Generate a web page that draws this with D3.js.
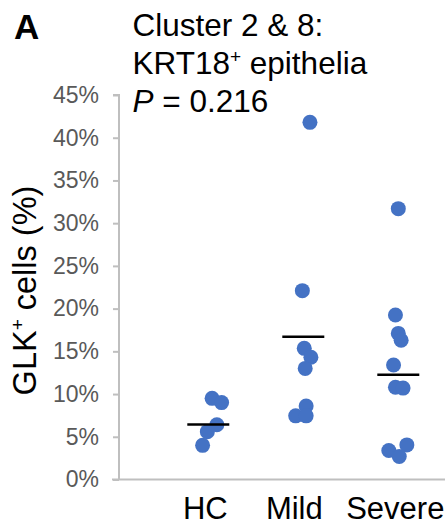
<!DOCTYPE html>
<html>
<head>
<meta charset="utf-8">
<script src="https://cdn.jsdelivr.net/npm/d3@7"></script>
<style>
  body { margin: 0; background: #fff; }
  svg { display: block; font-family: "Liberation Sans", Arial, sans-serif; }
</style>
</head>
<body>
<svg id="chart" width="448" height="529"></svg>
<script>
// groups shown on the x axis
const groups = ["HC", "Mild", "Severe"];

// GLK+ cells (%) per sample
const hcValues = [9.5, 9.0, 6.4, 5.6, 4.0];
const mildValues = [41.8, 22.1, 15.35, 14.3, 13.0, 8.6, 7.45, 7.45];
const severeValues = [31.7, 19.25, 17.1, 16.3, 13.4, 10.8, 10.7, 4.05, 3.4, 2.7];

// horizontal scatter of the dots, in group units
const hcJitter = [0.04, 0.14, 0.09, -0.01, -0.06];
const mildJitter = [0.07, -0.01, 0.01, 0.08, 0.02, 0.03, -0.08, 0.03];
const severeJitter = [0.0, -0.03, 0.0, 0.03, -0.05, -0.03, 0.05, 0.09, -0.1, 0.01];

// group means drawn as black bars
const groupMeans = [6.45, 16.7, 12.25];

// y tick values (%)
const yTicks = [0, 5, 10, 15, 20, 25, 30, 35, 40, 45];

const svg = d3.select("#chart");
const blue = "#4472C4";

const y = d3.scaleLinear().domain([0, 45]).range([479.5, 95]);
const x = d3.scaleLinear().domain([1, 3]).range([208.3, 398.3]);

// y axis
const yAxis = d3
  .axisLeft(y)
  .tickValues(yTicks)
  .tickSize(6)
  .tickPadding(14)
  .tickFormat((d) => d + "%");

const yg = svg.append("g").attr("transform", "translate(119,0)").call(yAxis);
yg.select(".domain").attr("stroke", "#bfbfbf").attr("stroke-width", 2).attr("d", "M-6,95H0V479.5");
yg.selectAll(".tick line").attr("stroke", "#bfbfbf").attr("stroke-width", 2);
yg.selectAll(".tick text")
  .attr("fill", "#595959")
  .attr("font-size", 23)
  .attr("font-family", "Liberation Sans, Arial, sans-serif");

// x axis line
svg
  .append("line")
  .attr("x1", 112)
  .attr("x2", 445)
  .attr("y1", y(0))
  .attr("y2", y(0))
  .attr("stroke", "#bfbfbf")
  .attr("stroke-width", 2);

// x labels
svg
  .selectAll("text.xlab")
  .data(groups)
  .enter()
  .append("text")
  .attr("class", "xlab")
  .attr("x", (d, i) => x(i + 1) - (i === 1 ? 9 : 3))
  .attr("y", 519)
  .attr("text-anchor", "middle")
  .attr("font-size", 31)
  .attr("fill", "#000")
  .text((d) => d);

// dots
const points = [];
[hcValues, mildValues, severeValues].forEach((vals, gi) => {
  const jit = [hcJitter, mildJitter, severeJitter][gi];
  vals.forEach((v, j) => points.push({ g: gi + 1, v: v, j: jit[j] }));
});

svg
  .append("g")
  .selectAll("circle")
  .data(points)
  .enter()
  .append("circle")
  .attr("cx", (d) => x(d.g + d.j))
  .attr("cy", (d) => y(d.v))
  .attr("r", 7.5)
  .attr("fill", blue);

// mean bars
svg
  .append("g")
  .selectAll("line")
  .data(groupMeans)
  .enter()
  .append("line")
  .attr("x1", (d, i) => x(i + 1) - 21)
  .attr("x2", (d, i) => x(i + 1) + 21)
  .attr("y1", (d) => y(d))
  .attr("y2", (d) => y(d))
  .attr("stroke", "#000")
  .attr("stroke-width", 2.5);

// y axis title
const yt = svg
  .append("text")
  .attr("transform", "translate(36,290.5) rotate(-90)")
  .attr("text-anchor", "middle")
  .attr("font-size", 32.5)
  .attr("fill", "#000");
yt.append("tspan").text("GLK");
yt.append("tspan").attr("font-size", 19).attr("dy", -12).text("+");
yt.append("tspan").attr("dy", 12).text(" cells (%)");

// panel letter
svg
  .append("text")
  .attr("x", 14)
  .attr("y", 39)
  .attr("font-size", 35)
  .attr("font-weight", "bold")
  .text("A");

// title block
svg.append("text").attr("x", 132.5).attr("y", 36).attr("font-size", 31.5).text("Cluster 2 & 8:");
const t2 = svg.append("text").attr("x", 132.5).attr("y", 74).attr("font-size", 31.5);
t2.append("tspan").text("KRT18");
t2.append("tspan").attr("font-size", 19).attr("dy", -11).text("+");
t2.append("tspan").attr("dy", 11).text(" epithelia");
const t3 = svg.append("text").attr("x", 132.5).attr("y", 111.5).attr("font-size", 31.5);
t3.append("tspan").attr("font-style", "italic").text("P");
t3.append("tspan").text(" = 0.216");
</script>
</body>
</html>
